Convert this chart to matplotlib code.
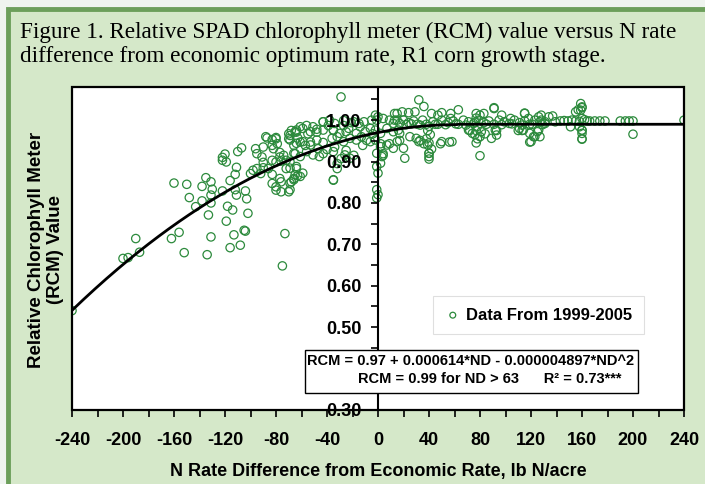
import matplotlib
matplotlib.use("Agg")
from matplotlib import pyplot as plt
from matplotlib.patches import Rectangle
from matplotlib.ticker import MultipleLocator, FuncFormatter
import numpy as np

plt.rcParams['axes.unicode_minus'] = False

# N rate difference (lb N/acre) and relative chlorophyll meter value
nd_left = [-240, -200, -196, -187, -190, -162, -156, -152, -134, -131, -116, -113, -119, -133,
           -143, -138, -131, -148, -160, -150, -138, -135, -131, -131, -130, -122, -116, -118,
           -114, -122, -119, -108, -104, -112, -111, -111, -104, -103, -102, -105, -122, -120,
           -110, -107, -112, -73, -75]
rcm_left = [0.540, 0.666, 0.668, 0.681, 0.714, 0.714, 0.729, 0.680, 0.675, 0.718, 0.692, 0.723,
            0.756, 0.771, 0.791, 0.805, 0.800, 0.813, 0.848, 0.845, 0.840, 0.861, 0.851, 0.819,
            0.833, 0.829, 0.854, 0.792, 0.783, 0.903, 0.899, 0.698, 0.732, 0.869, 0.819, 0.886,
            0.829, 0.810, 0.775, 0.734, 0.910, 0.918, 0.924, 0.933, 0.832, 0.726, 0.648]

nd_mid = [-100, -98, -95, -92, -90, -86, -83, -77, -76, -80, -76, -70, -66, -63, -64,
          -96, -95, -90, -91, -90, -88, -83, -80, -79, -82, -77, -77, -83, -80, -76, -72,
          -69, -72, -74, -70, -69, -65, -63, -66, -65, -83, -68, -80, -87, -83, -80]
rcm_mid = [0.871, 0.879, 0.883, 0.871, 0.885, 0.883, 0.869, 0.859, 0.851, 0.839, 0.827, 0.827,
           0.859, 0.866, 0.883, 0.931, 0.919, 0.935, 0.911, 0.898, 0.960, 0.939, 0.955, 0.943,
           0.931, 0.922, 0.911, 0.903, 0.899, 0.901, 0.903, 0.899, 0.883, 0.915, 0.955, 0.963,
           0.972, 0.957, 0.939, 0.919, 0.847, 0.851, 0.831, 0.957, 0.953, 0.958]

nd_near = [-70, -68, -64, -61, -56, -51, -55, -48, -43, -39, -35, -27, -23, -19, -14,
           -61, -57, -53, -47, -43, -40, -34, -32, -29, -25, -19, -35, -32, -29,
           -43, -38, -34, -27, -21, -15, -11, -5, 0, 4, 9, 15, 12,
           -64, -59, -53, -48, -43, -35, -30, -25, -17, -10, -6, -2, 2, 7, 12, 16,
           -69, -64, -59, -53, -48, -43, -36, -32, -27, -22, -17, -13, -6, -2, 2, 7, 12,
           -66, -61, -56, -51, -46, -35, -26, -22, -1, 3, 2,
           -69, -64, -65, -61, -59, -69, -66, -69, -35,
           -1, 0, -1, 0, -1, -12, -9, -4, -1, -2, 2, 4]
rcm_near = [0.967, 0.975, 0.971, 0.984, 0.987, 0.984, 0.967, 0.971, 0.996, 0.987, 0.975, 0.987,
            0.980, 0.996, 0.984,
            0.947, 0.939, 0.947, 0.931, 0.919, 0.929, 0.935, 0.895, 0.907, 0.927, 0.915, 0.855,
            0.883, 1.056,
            0.996, 1.000, 0.992, 0.999, 0.994, 0.992, 0.996, 1.000, 1.008, 1.004, 1.000, 1.016, 0.992,
            0.976, 0.980, 0.972, 0.978, 0.976, 0.976, 0.968, 0.972, 0.968, 0.972, 0.980, 0.976,
            0.968, 0.980, 0.972, 0.976,
            0.952, 0.944, 0.948, 0.940, 0.952, 0.946, 0.956, 0.960, 0.948, 0.956, 0.952, 0.960,
            0.948, 0.952, 0.936, 0.940, 0.932,
            0.920, 0.912, 0.924, 0.916, 0.912, 0.924, 0.916, 0.908, 0.920, 0.912, 0.896,
            0.884, 0.888, 0.868, 0.864, 0.872, 0.848, 0.856, 0.832, 0.856,
            0.888, 0.872, 0.832, 0.820, 0.812, 0.939, 0.951, 0.967, 1.000, 1.012, 0.943, 0.919]

nd_right = [32, 36, 29, 24, 19, 13, 42, 47, 50, 57, 63, 57, 77, 80, 83, 91, 97, 104, 115, 118,
            126, 128, 91,
            13, 17, 20, 24, 28, 31, 35, 43, 47, 50, 55, 59, 63, 67, 71, 75, 79, 83, 87, 91, 95,
            99, 103, 107, 111, 115, 119, 123, 127, 131, 15, 22, 26, 33, 45, 53, 61, 69, 85, 97,
            105, 113, 121, 129,
            38, 40, 39, 41, 38, 40, 39, 42, 40, 40, 40,
            77, 76, 78, 77, 76, 78, 77, 80,
            119, 123, 120, 114, 111, 126, 17, 15, 20, 25, 30, 32, 50, 58, 21, 71, 74, 81, 92,
            93, 89, 119, 122, 125, 113, 110, 93, 84, 80, 72, 56, 49, 33, 36, 17, 9, 4,
            115, 159, 160, 159, 200, 240, 40, 160, 160,
            128, 131, 134, 137, 139, 143, 149, 152, 155, 164, 166, 170, 174, 178, 190, 194, 197,
            200, 127, 146, 158, 162,
            160, 155, 157, 160, 158, 160, 160, 160, 151]
rcm_right = [1.049, 1.033, 1.020, 1.018, 1.020, 1.016, 1.016, 1.012, 1.018, 1.016, 1.025, 1.004,
             1.016, 1.012, 1.016, 1.028, 1.012, 1.004, 1.016, 1.004, 1.008, 1.012, 1.030,
             1.000, 0.992, 1.000, 0.994, 0.998, 0.990, 1.000, 0.996, 0.990, 1.000, 0.994, 0.998,
             0.990, 1.000, 0.996, 0.992, 1.000, 0.994, 0.998, 0.990, 1.000, 0.996, 0.992, 1.000,
             0.994, 0.998, 0.990, 1.000, 0.996, 0.992, 1.000, 0.989, 0.991, 0.988, 0.990, 0.989,
             0.991, 0.988, 0.990, 0.989, 0.991, 0.988, 0.990, 0.989,
             0.990, 0.985, 0.975, 0.965, 0.955, 0.945, 0.940, 0.930, 0.920, 0.912, 0.906,
             1.005, 0.995, 0.985, 0.975, 0.965, 0.955, 0.945, 0.914,
             0.968, 0.960, 0.948, 0.976, 0.980, 0.976, 0.968, 0.948, 0.932, 0.960, 0.956, 0.948,
             0.948, 0.948, 0.908, 0.976, 0.968, 0.972, 0.976, 0.964, 0.956, 0.947, 0.960, 0.972,
             0.975, 0.975, 0.975, 0.967, 0.960, 0.975, 0.947, 0.943, 0.951, 0.943, 0.951, 0.943,
             0.915,
             1.017, 1.040, 1.032, 1.024, 0.966, 1.000, 0.920, 0.975, 0.955,
             1.000, 0.996, 1.008, 1.010, 0.996, 0.998, 0.998, 1.000, 0.998, 0.998, 0.998, 0.998,
             0.998, 0.998, 0.998, 0.998, 0.998, 0.998, 0.960, 0.999, 0.997, 1.001,
             1.030, 1.020, 1.025, 1.004, 0.984, 0.976, 0.968, 0.954, 0.984]

nd = nd_left + nd_mid + nd_near + nd_right
rcm = rcm_left + rcm_mid + rcm_near + rcm_right

# fitted model printed in the figure
b0, b1, b2 = 0.97, 0.000614, -0.000004897
nd_break, rcm_plateau = 63, 0.99

# the 0.40 label sits under the equation box in the original
hidden_ylabels = [0.40]

green = '#2c8a3c'
fig = plt.figure(figsize=(7.05, 4.84), dpi=100)
fig.patch.set_facecolor('#eff4ef')
fig.patches.append(Rectangle((8 / 705, -0.1), 1.2, 1 - 9 / 484 + 0.1, transform=fig.transFigure,
                             facecolor='#d5e8c9', edgecolor='#6c9f5b', lw=3.5, zorder=-1))

fig.text(20 / 705, 1 - 22 / 484,
         "Figure 1. Relative SPAD chlorophyll meter (RCM) value versus N rate\n"
         "difference from economic optimum rate, R1 corn growth stage.",
         family='Liberation Serif', fontsize=16.7, va='top', ha='left', linespacing=1.2)

ax = fig.add_axes([72 / 705, 1 - 410 / 484, 612 / 705, 323 / 484])
ax.set_zorder(1)
ax.set_facecolor('white')
ax.scatter(nd, rcm, s=36, facecolors='none', edgecolors=green, linewidths=0.9, zorder=1,
           label='Data From 1999-2005')

xs = np.linspace(-240, 240, 481)
ys = np.where(xs < nd_break, b0 + b1 * xs + b2 * xs ** 2, rcm_plateau)
ax.plot(xs, ys, color='black', lw=2.0, zorder=2)

ax.set_xlim(-240, 240)
ax.set_ylim(0.30, 1.08)
for s in ['top', 'right', 'bottom']:
    ax.spines[s].set_visible(False)
ax.spines['left'].set_position(('data', 0))
ax.spines['left'].set_linewidth(1.5)
ax.add_patch(Rectangle((0, 0), 1, 1, transform=ax.transAxes, fill=False, lw=1.6,
                       edgecolor='black', zorder=3, clip_on=False))

ax.xaxis.set_major_locator(MultipleLocator(40))
ax.xaxis.set_minor_locator(MultipleLocator(20))
ax.yaxis.set_major_locator(MultipleLocator(0.1))
ax.yaxis.set_minor_locator(MultipleLocator(0.05))
ax.yaxis.set_major_formatter(FuncFormatter(
    lambda v, p: '' if any(abs(v - h) < 1e-6 for h in hidden_ylabels) else '%.2f' % v))
ax.tick_params(axis='x', which='both', direction='out', length=5, width=1.2, pad=11)
ax.tick_params(axis='y', which='both', direction='out', length=5, width=1.2, pad=7)
for lab in ax.get_xticklabels() + ax.get_yticklabels():
    lab.set_fontweight('bold')
    lab.set_fontsize(13)
    lab.set_family('Liberation Sans')

ax.set_xlabel("N Rate Difference from Economic Rate, lb N/acre", fontsize=13,
              fontweight='bold', family='Liberation Sans', labelpad=10)
fig.text(46 / 705, 1 - 250 / 484, "Relative Chlorophyll Meter\n(RCM) Value", rotation=90,
         ha='center', va='center', fontsize=13.5, fontweight='bold', family='Liberation Sans',
         linespacing=1.1)

leg = ax.legend(loc='center', bbox_to_anchor=(0.762, 0.294), frameon=True, fancybox=False,
                markerscale=0.7, handletextpad=0.3, borderpad=0.7, handlelength=1.0,
                prop={'family': 'Liberation Sans', 'weight': 'bold', 'size': 12})
leg.get_frame().set_edgecolor('#d8d8d8')
leg.get_frame().set_linewidth(0.8)
leg.set_zorder(5)

ax.add_patch(Rectangle((0.381, 0.0526), 0.544, 0.133, transform=ax.transAxes,
                       facecolor='white', edgecolor='black', lw=1.0, zorder=4))
ax.text(0.651, 0.153, "RCM = 0.97 + 0.000614*ND - 0.000004897*ND^2", transform=ax.transAxes,
        ha='center', va='center', fontsize=10.5, fontweight='bold', family='Liberation Sans',
        zorder=5)
ax.text(0.683, 0.096, "RCM = 0.99 for ND > 63      R\u00b2 = 0.73***", transform=ax.transAxes,
        ha='center', va='center', fontsize=10.5, fontweight='bold', family='Liberation Sans',
        zorder=5)

fig.savefig('out.png', dpi=100, facecolor=fig.get_facecolor())
